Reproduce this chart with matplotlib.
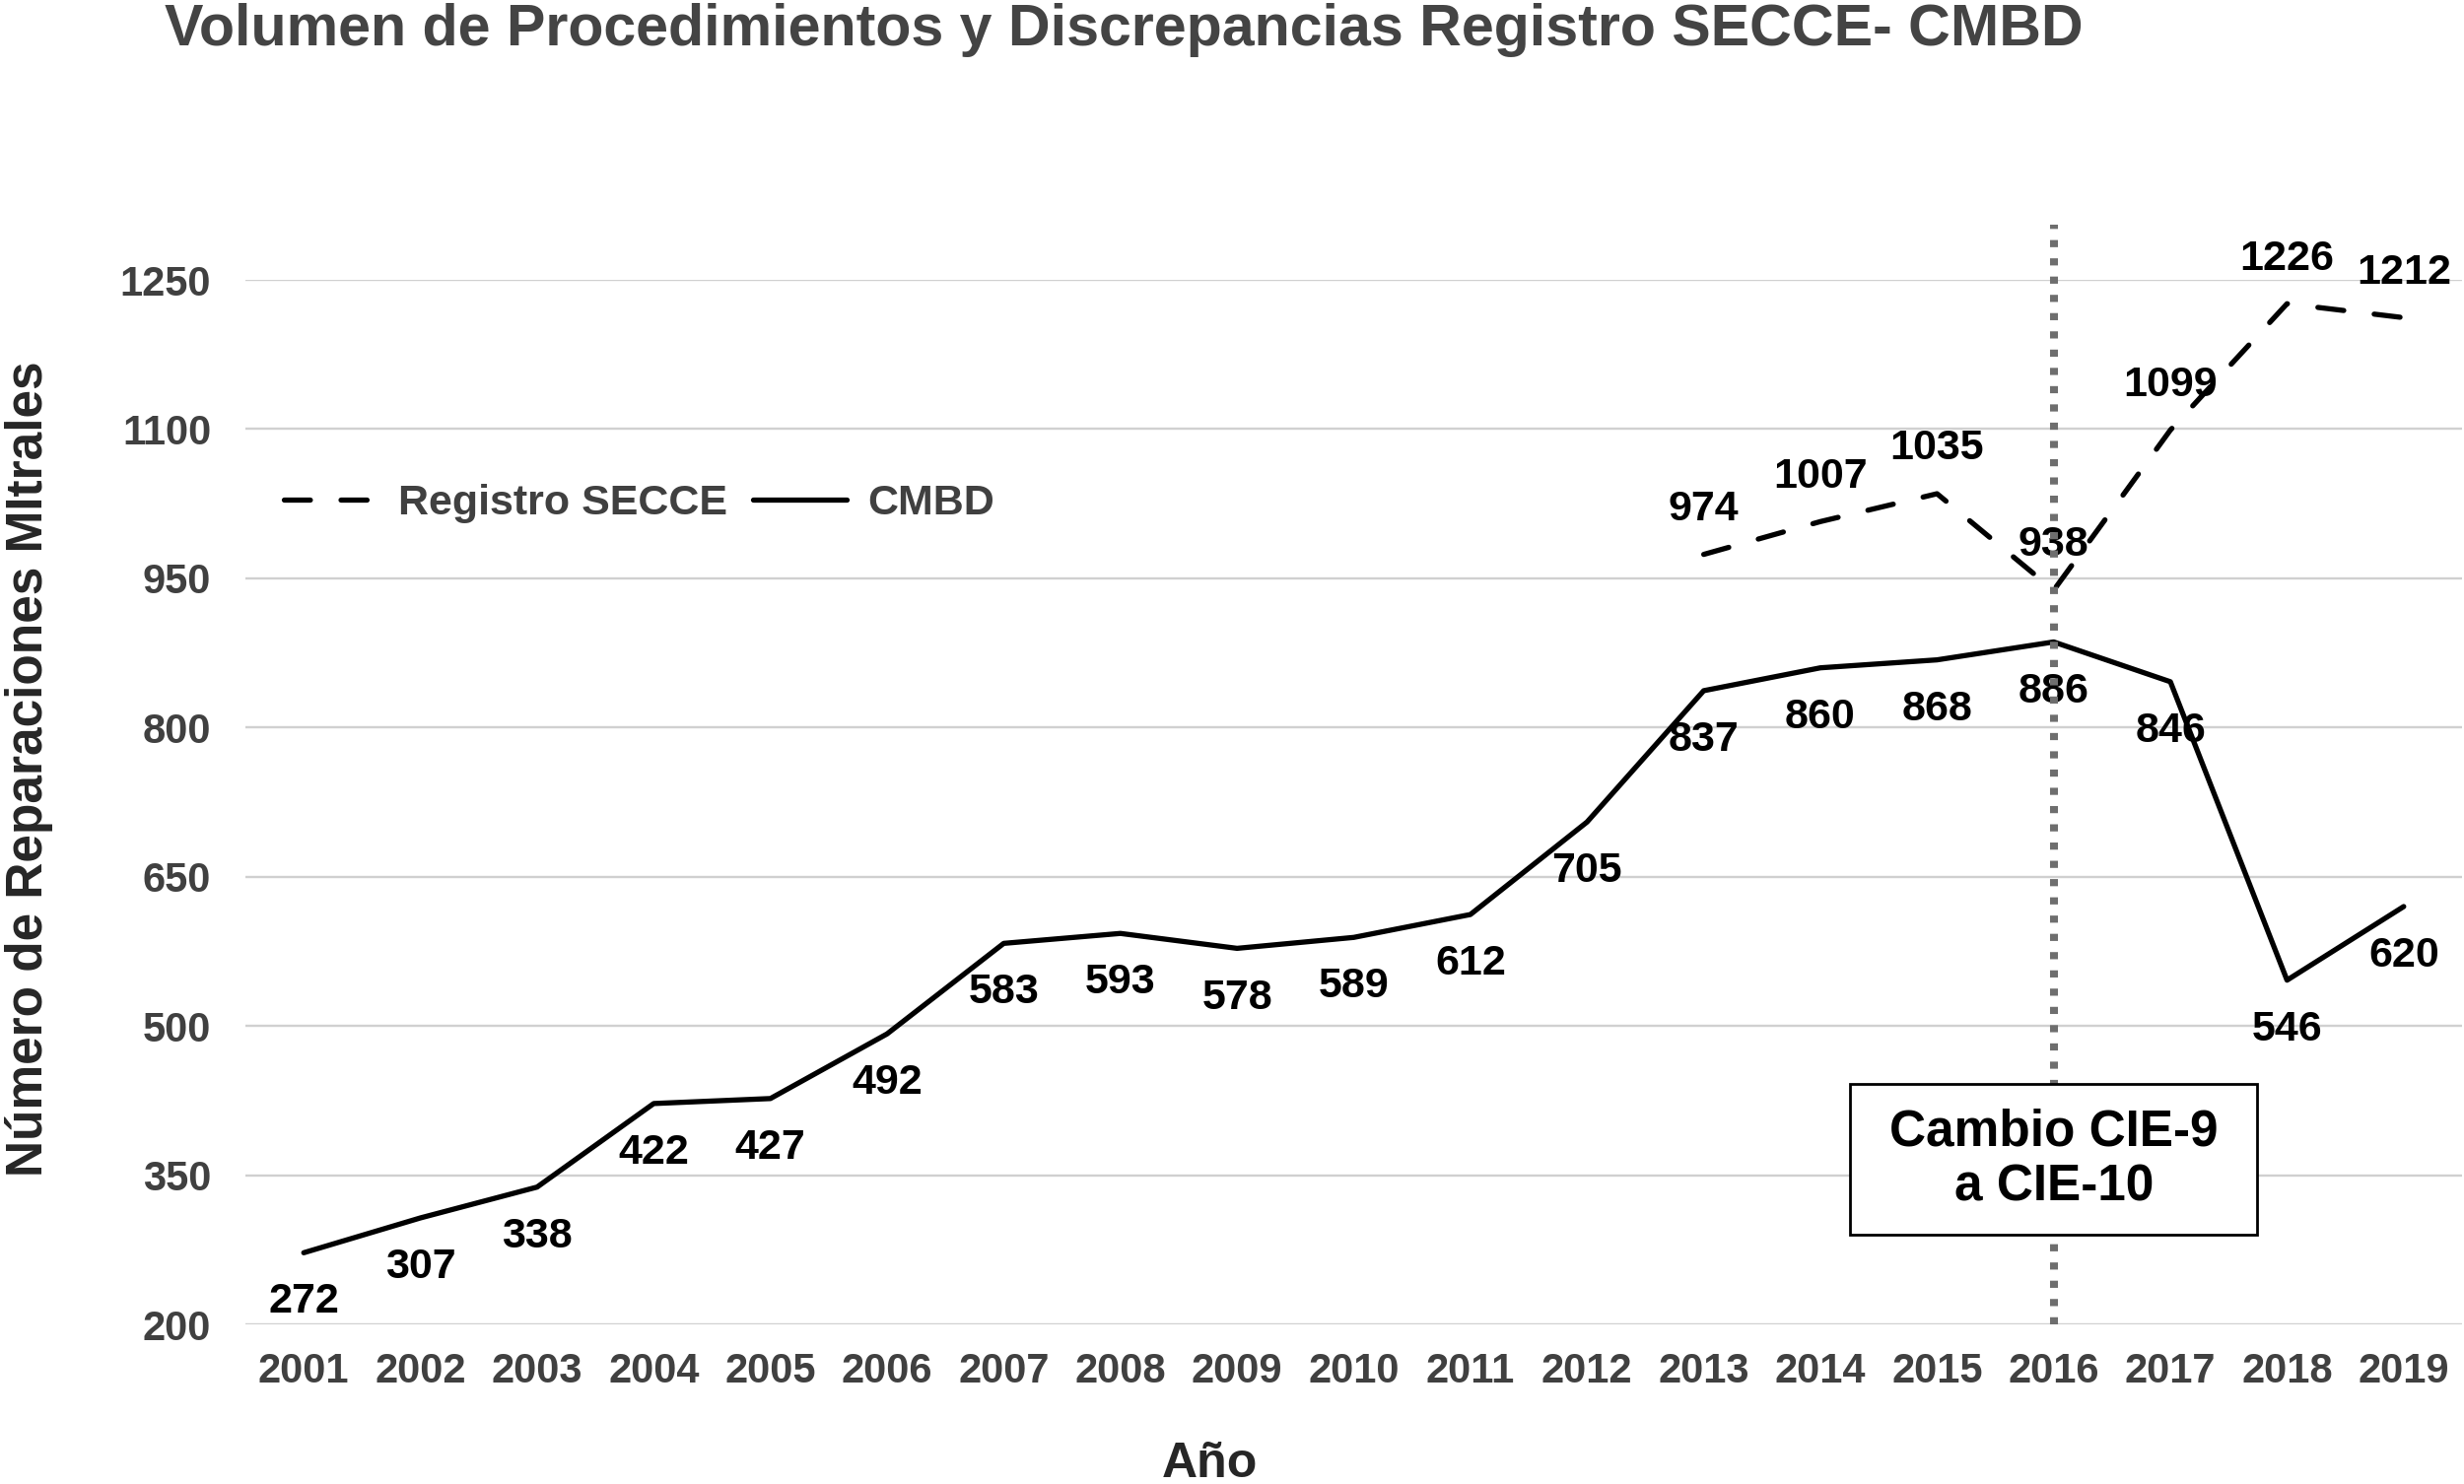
import matplotlib
matplotlib.use("Agg")
import matplotlib.pyplot as plt
from matplotlib.patches import Rectangle
import numpy as np

plt.rcParams['font.family'] = ['Liberation Sans', 'DejaVu Sans']

# ---- data ----
years = ['2001', '2002', '2003', '2004', '2005', '2006', '2007', '2008', '2009', '2010',
         '2011', '2012', '2013', '2014', '2015', '2016', '2017', '2018', '2019']
cmbd = [272, 307, 338, 422, 427, 492, 583, 593, 578, 589, 612, 705, 837, 860, 868, 886, 846, 546, 620]
secce = [np.nan] * 12 + [974, 1007, 1035, 938, 1099, 1226, 1212]
yticks = [200, 350, 500, 650, 800, 950, 1100, 1250]
change_year = '2016'

title = 'Volumen de Procedimientos y Discrepancias Registro SECCE- CMBD'
ylabel = 'Número de Reparaciones MItrales'
xlabel = 'Año'
box_text = 'Cambio CIE-9\na CIE-10'

W, H = 2500, 1506
fig = plt.figure(figsize=(W / 100, H / 100), dpi=100)
ax = fig.add_axes([249 / W, 1 - 1344 / H, (2498 - 249) / W, (1344 - 284) / H])

x = np.arange(len(years))
ax.set_xlim(-0.5, len(years) - 0.5)
ax.set_ylim(yticks[0], yticks[-1])

for yv in yticks:
    ax.axhline(yv, color='#d0d0d0', lw=1.7, zorder=1)

for s in ax.spines.values():
    s.set_visible(False)

ln_c, = ax.plot(x, cmbd, color='black', lw=3.8, solid_capstyle='round',
                solid_joinstyle='round', zorder=3, label='CMBD')
ln_s, = ax.plot(x, secce, color='black', lw=3.8, dashes=(5.0, 5.9),
                dash_capstyle='round', zorder=3, label='Registro SECCE')

for xi, v in zip(x, cmbd):
    ax.annotate(str(v), (xi, v), xytext=(0, -44), textcoords='offset points',
                ha='center', va='baseline', fontsize=31, fontweight='bold',
                color='black', zorder=4)
for xi, v in zip(x, secce):
    if np.isnan(v):
        continue
    ax.annotate(str(int(v)), (xi, v), xytext=(0, 25), textcoords='offset points',
                ha='center', va='baseline', fontsize=31, fontweight='bold',
                color='black', zorder=4, annotation_clip=False)

cx = years.index(change_year)
ax.axvline(cx, ymin=0, ymax=(1344 - 228) / (1344 - 284), color='#6e6e6e', lw=5.8,
           dashes=(0.9, 1.4), clip_on=False, zorder=5)

# annotation box
bw, bh = 413 / 118.4, 153 / (1060 / 1050)
bcy = 365.5
ax.add_patch(Rectangle((cx - bw / 2, bcy - bh / 2), bw, bh, facecolor='white',
                       edgecolor='black', lw=2, zorder=6))
ax.text(cx, bcy, box_text, ha='center', va='center', fontsize=37, fontweight='bold',
        color='black', linespacing=1.2, zorder=7)

ax.set_xticks(x)
ax.set_xticklabels(years)
ax.set_yticks(yticks)
ax.set_yticklabels([str(v) for v in yticks])
ax.tick_params(axis='both', length=0, labelsize=30, labelcolor='#404040')
ax.tick_params(axis='y', pad=25)
ax.tick_params(axis='x', pad=20)
for lab in ax.get_xticklabels() + ax.get_yticklabels():
    lab.set_fontweight('bold')

fig.text(167 / W, 1 - 46 / H, title, ha='left', va='baseline', fontsize=42.6,
         fontweight='bold', color='#444444')
fig.text(43 / W, 1 - 780 / H, ylabel, rotation=90, ha='center', va='baseline',
         fontsize=37, fontweight='bold', color='#262626', rotation_mode='anchor')
fig.text(1227 / W, 1 - 1499 / H, xlabel, ha='center', va='baseline', fontsize=36,
         fontweight='bold', color='#262626')

leg = fig.legend(handles=[ln_s, ln_c], loc='center left',
                 bbox_to_anchor=(288 / W, 1 - 511 / H), ncol=2, frameon=False,
                 fontsize=31, handlelength=2.2, handletextpad=0.5,
                 columnspacing=0.6, borderpad=0, borderaxespad=0)
for t in leg.get_texts():
    t.set_fontweight('bold')
    t.set_color('#404040')

fig.savefig('out.png', dpi=100)
